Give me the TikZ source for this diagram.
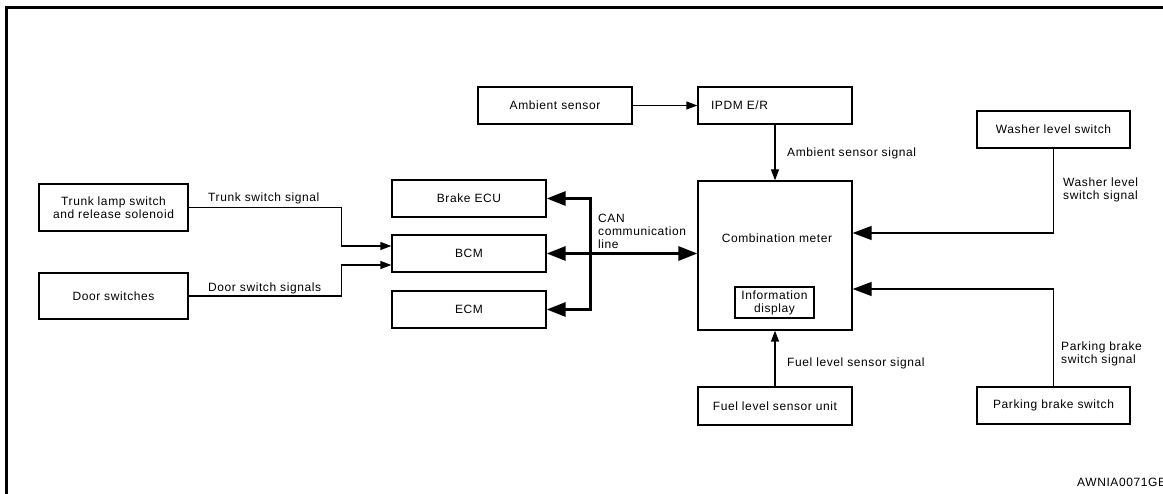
\documentclass[tikz,border=0pt]{standalone}
\usepackage{fontspec}
\setmainfont{Liberation Sans}[LetterSpace=5]
\usetikzlibrary{arrows.meta,calc}
\begin{document}
\begin{tikzpicture}[x=1pt,y=-1pt,
  txt/.style={font=\fontsize{12}{13}\selectfont},
  box/.style={draw, line width=1.3pt, inner sep=0pt, txt, align=center},
  lbl/.style={txt, align=left, anchor=west, inner sep=0pt},
  arr/.style={line width=1.3pt, -{Triangle[length=11pt,width=8pt]}},
  bigarr/.style={line width=1.3pt, -{Triangle[length=19pt,width=14pt]}},
  can/.style={line width=3pt, {Triangle[length=19pt,width=14pt]}-{Triangle[length=19pt,width=14pt]}},
]
\useasboundingbox (0,0) rectangle (1163,494);
\clip (0,0) rectangle (1163,494);
% frame
\draw[line width=3pt] (6,500) -- (6,8) -- (1170,8);

% boxes
\node[box, minimum width=154pt, minimum height=37pt] (amb) at (555,105.5) {Ambient sensor};
\node[box, minimum width=154pt, minimum height=37pt, text width=128pt, inner xsep=13pt, align=left] (ipdm) at (775,105.5) {IPDM E/R};
\node[box, minimum width=154pt, minimum height=149pt] (cm) at (775,255.5) {};
\node[txt] (cmt) at (777,238) {Combination meter};
\node[box, minimum width=79pt, minimum height=31pt] (info) at (774.5,302.5) {Information\\display};
\node[box, minimum width=154pt, minimum height=38pt] (fuel) at (775,406) {Fuel level sensor unit};
\node[box, minimum width=153pt, minimum height=37pt] (wash) at (1053.5,129.5) {Washer level switch};
\node[box, minimum width=153pt, minimum height=37pt] (park) at (1053.5,405.5) {Parking brake switch};
\node[box, minimum width=149pt, minimum height=47pt] (trunk) at (113.5,207.5) {Trunk lamp switch\\and release solenoid};
\node[box, minimum width=149pt, minimum height=46pt] (door) at (113.5,296) {Door switches};
\node[box, minimum width=154pt, minimum height=37pt] (brake) at (469,198.5) {Brake ECU};
\node[box, minimum width=154pt, minimum height=37pt] (bcm) at (469,253.5) {BCM};
\node[box, minimum width=154pt, minimum height=37pt] (ecm) at (469,309.5) {ECM};

% connectors
\draw[arr] (amb) -- (ipdm);
\draw[arr] (ipdm) -- (cm);
\draw[arr] (fuel) -- (cm);
\draw[bigarr] (wash.south) |- ([yshift=22.5pt]cm.east);
\draw[bigarr] (park.north) |- ([yshift=-33.5pt]cm.east);
\draw[arr] (trunk.east) -| ([xshift=-50pt,yshift=7.5pt]bcm.west) -- ([yshift=7.5pt]bcm.west);
\draw[arr] (door.east) -| ([xshift=-50pt,yshift=-11.5pt]bcm.west) -- ([yshift=-11.5pt]bcm.west);
\draw[can] (brake.east) -| ([xshift=44pt]ecm.east) -- (ecm.east);
\draw[can] (bcm.east) -- (bcm.east -| cm.west);

% labels
\node[lbl] (l1) at (208,198) {Trunk switch signal};
\node[lbl] (l2) at (208,288) {Door switch signals};
\node[lbl] (l3) at (598,231) {CAN\\communication\\line};
\node[lbl] (l4) at (787,153) {Ambient sensor signal};
\node[lbl] (l5) at (1063,190) {Washer level\\switch signal};
\node[lbl] (l6) at (1061,354) {Parking brake\\switch signal};
\node[lbl] (l7) at (787,363) {Fuel level sensor signal};
\node[lbl] (l8) at (1077,482) {AWNIA0071GE};
\end{tikzpicture}
\end{document}
